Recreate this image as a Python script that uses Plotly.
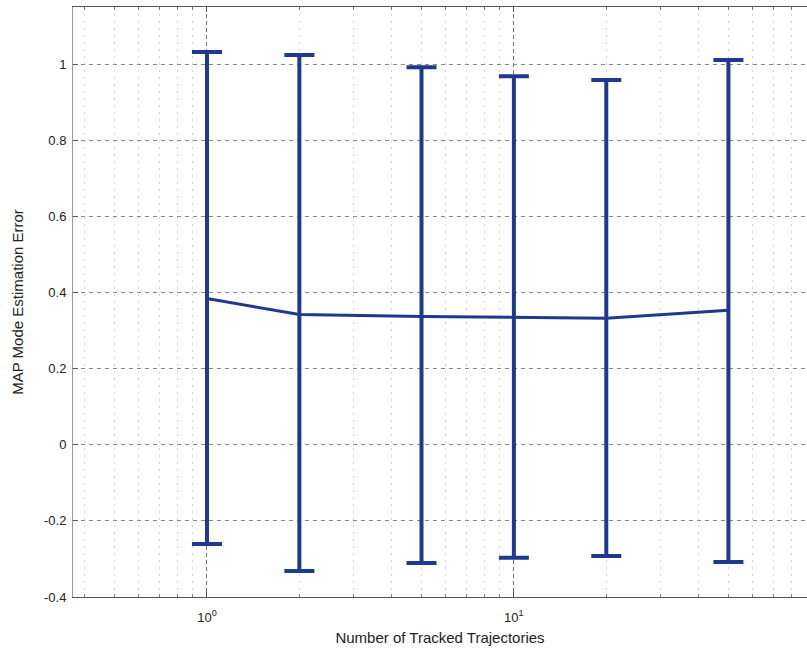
import plotly.graph_objects as go

n_traj = [1, 2, 5, 10, 20, 50]
mean_err = [0.384, 0.342, 0.337, 0.334, 0.332, 0.353]
upper = [1.032, 1.024, 0.992, 0.968, 0.958, 1.011]
lower = [-0.261, -0.332, -0.311, -0.297, -0.292, -0.308]

err_plus = [u - m for u, m in zip(upper, mean_err)]
err_minus = [m - l for m, l in zip(mean_err, lower)]

color = "#1d3a8e"
fig = go.Figure()
fig.add_trace(go.Scatter(
    x=n_traj, y=mean_err, mode="lines",
    line=dict(color=color, width=3),
    error_y=dict(type="data", symmetric=False, array=err_plus, arrayminus=err_minus,
                 color=color, thickness=4, width=15),
    showlegend=False,
))

fig.update_layout(
    width=807, height=657,
    margin=dict(l=73, r=0, t=7, b=60),
    plot_bgcolor="white", paper_bgcolor="white",
    font=dict(family="Liberation Sans, Arial, sans-serif", color="#222222", size=13),
)
fig.update_xaxes(
    type="log", range=[-0.4365, 1.955],
    tickvals=[1, 10], ticktext=["10<sup>0</sup>", "10<sup>1</sup>"],
    ticks="inside", ticklen=5, tickcolor="#555",
    showgrid=True, gridcolor="#777", griddash="4px,3px", gridwidth=1,
    minor=dict(tickvals=[0.4, 0.5, 0.6, 0.7, 0.8, 0.9, 2, 3, 4, 5, 6, 7, 8, 9, 20, 30, 40, 50, 60, 70, 80, 90],
               showgrid=True, gridcolor="#d4d4d4", griddash="2px,5px", ticks="inside", ticklen=3, tickcolor="#777"),
    showline=True, linecolor="#555", linewidth=1, mirror="allticks",
    title=dict(text="Number of Tracked Trajectories", font=dict(size=15), standoff=8),
    ticklabelstandoff=8,
    zeroline=False, tickfont=dict(size=13),
)
fig.update_yaxes(
    range=[-0.4, 1.15],
    tickvals=[-0.4, -0.2, 0, 0.2, 0.4, 0.6, 0.8, 1],
    ticktext=["-0.4", "-0.2", "0", "0.2", "0.4", "0.6", "0.8", "1"],
    ticks="inside", ticklen=5, tickcolor="#555",
    showgrid=True, gridcolor="#8a8a80", griddash="4px,4px", gridwidth=1,
    showline=True, linecolor="#999", linewidth=1,
    title=dict(text="MAP Mode Estimation Error", font=dict(size=15), standoff=16),
    ticklabelstandoff=3,
    zeroline=False, tickfont=dict(size=13),
)
fig.write_html("out.html")
